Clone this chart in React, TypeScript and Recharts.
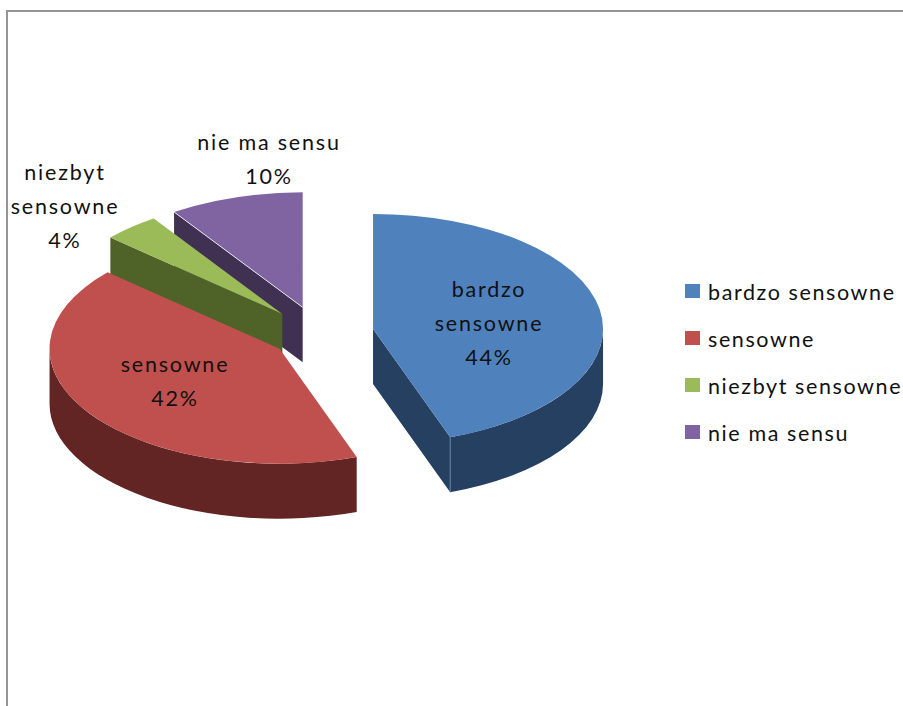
import { Legend, Pie, PieChart } from "recharts";

const categories = ["bardzo sensowne", "sensowne", "niezbyt sensowne", "nie ma sensu"];
const shares = [44, 42, 4, 10];
const topColors = ["#4F81BD", "#C0504D", "#9BBB59", "#8064A2"];
const wallColors = ["#264061", "#632523", "#4F6228", "#403152"];
// how far each slice is pulled out of the pie, along its middle angle
const explosions = [54, 50, 55, 56];
// label centre x and first baseline y
const labelSpots = [
  { x: 489, y: 297, lines: ["bardzo", "sensowne"] },
  { x: 175, y: 372, lines: ["sensowne"] },
  { x: 65, y: 180, lines: ["niezbyt", "sensowne"] },
  { x: 269, y: 150, lines: ["nie ma sensu"] },
];

const chartData = categories.map((name, i) => ({
  name,
  value: shares[i],
  fill: topColors[i],
}));
// walls are painted back to front, so the far slices go first
const wallData = categories
  .map((name, i) => ({ name, value: shares[i], fill: wallColors[i] }))
  .reverse();

const FONT = "Lato, sans-serif";
const SQUASH = 0.5; // ellipse height / width
const DEPTH = 55;
const PERSPECTIVE = 2; // inner slice borders lean a bit in the original

const rad = (d: number) => (d * Math.PI) / 180;

// angles in here are clockwise from 12 o'clock
const geometry = (props: any) => {
  const { cx, cy, outerRadius, startAngle, endAngle, name } = props;
  let from = 90 - Math.max(startAngle, endAngle);
  let to = 90 - Math.min(startAngle, endAngle);
  if (from < 0) {
    from += 360;
    to += 360;
  }
  const rx = outerRadius;
  const ry = outerRadius * SQUASH;
  const e = explosions[categories.indexOf(name)];
  const mid = rad((from + to) / 2);
  const ax = cx + e * Math.sin(mid);
  const ay = cy - e * Math.cos(mid) * SQUASH;
  const at = (deg: number) => ({
    x: ax + rx * Math.sin(rad(deg)),
    y: ay - ry * Math.cos(rad(deg)),
  });
  const lean = (d: number) => (d > 0.01 && d < 359.99 ? d + PERSPECTIVE : d);
  return { from: lean(from), to: lean(to), rx, ry, ax, ay, at };
};

const TopSlice = (props: any) => {
  const { from, to, rx, ry, ax, ay, at } = geometry(props);
  const a = at(from);
  const b = at(to);
  const large = to - from > 180 ? 1 : 0;
  const isPurple = props.name === "nie ma sensu";
  return (
    <g>
      <path
        d={`M${ax},${ay} L${a.x},${a.y} A${rx},${ry} 0 ${large} 1 ${b.x},${b.y} Z`}
        fill={props.fill}
      />
      {isPurple && (
        <line x1={ax} y1={ay} x2={a.x} y2={a.y} stroke="#e6e0ee" strokeWidth={1} />
      )}
    </g>
  );
};

const WallSlice = (props: any) => {
  const { from, to, rx, ry, ax, ay, at } = geometry(props);
  const parts: string[] = [];
  const cut = (deg: number) => {
    const p = at(deg);
    parts.push(
      `M${ax},${ay} L${p.x},${p.y} L${p.x},${p.y + DEPTH} L${ax},${ay + DEPTH} Z`,
    );
  };
  if (Math.sin(rad(from)) < -0.01) cut(from);
  if (Math.sin(rad(to)) > 0.01) cut(to);
  const a0 = Math.max(from, 90);
  const a1 = Math.min(to, 270);
  if (a1 > a0) {
    const p = at(a0);
    const q = at(a1);
    parts.push(
      `M${p.x},${p.y} A${rx},${ry} 0 0 1 ${q.x},${q.y} L${q.x},${q.y + DEPTH} A${rx},${ry} 0 0 0 ${p.x},${p.y + DEPTH} Z`,
    );
  }
  const corner = at(to);
  return (
    <g>
      <path d={parts.join(" ")} fill={props.fill} />
      {props.name === "bardzo sensowne" && (
        <line
          x1={corner.x}
          y1={corner.y}
          x2={corner.x}
          y2={corner.y + DEPTH}
          stroke="#6f8aab"
          strokeWidth={1}
        />
      )}
    </g>
  );
};

const renderLabel = (props: any) => {
  const spot = labelSpots[categories.indexOf(props.name)];
  const lines = [...spot.lines, `${Math.round(props.percent * 100)}%`];
  return (
    <text
      key={props.name}
      textAnchor="middle"
      fontFamily={FONT}
      fontSize={21.5}
      letterSpacing={1.8}
      fill="#111"
    >
      {lines.map((line, i) => (
        <tspan key={i} x={spot.x} y={spot.y + i * 34}>
          {line}
        </tspan>
      ))}
    </text>
  );
};

const renderLegend = () => (
  <div style={{ fontFamily: FONT, fontSize: 21.5, letterSpacing: 1.6, color: "#111" }}>
    {categories.map((name, i) => (
      <div
        key={name}
        style={{ position: "absolute", top: i * 47, left: 0, whiteSpace: "nowrap", height: 28, lineHeight: "28px" }}
      >
        <span
          style={{
            position: "absolute",
            left: 0,
            top: 6,
            width: 15,
            height: 14,
            background: topColors[i],
          }}
        />
        <span style={{ position: "absolute", left: 23, top: 0 }}>{name}</span>
      </div>
    ))}
  </div>
);

export default function App() {
  return (
    <div style={{ position: "absolute", left: 0, top: 0, width: 903, height: 706, overflow: "hidden", background: "#fff" }}>
      <div
        style={{
          position: "absolute",
          left: 6,
          top: 10,
          right: 0,
          bottom: 0,
          borderTop: "2px solid #949494",
          borderLeft: "2px solid #949494",
        }}
      />
      <div style={{ position: "absolute", left: 0, top: 0 }}>
        <PieChart width={903} height={706} margin={{ top: 0, right: 0, bottom: 0, left: 0 }}>
          <Pie
            data={wallData}
            dataKey="value"
            nameKey="name"
            cx={320}
            cy={334}
            outerRadius={230}
            startAngle={90}
            endAngle={450}
            stroke="none"
            legendType="none"
            shape={WallSlice}
            isAnimationActive={false}
          />
          <Pie
            data={chartData}
            dataKey="value"
            nameKey="name"
            cx={320}
            cy={334}
            outerRadius={230}
            startAngle={90}
            endAngle={-270}
            stroke="none"
            shape={TopSlice}
            label={renderLabel}
            labelLine={false}
            isAnimationActive={false}
          />
          <Legend
            content={renderLegend}
            wrapperStyle={{ position: "absolute", left: 685, top: 278, width: 218, height: 180 }}
          />
        </PieChart>
      </div>
    </div>
  );
}
